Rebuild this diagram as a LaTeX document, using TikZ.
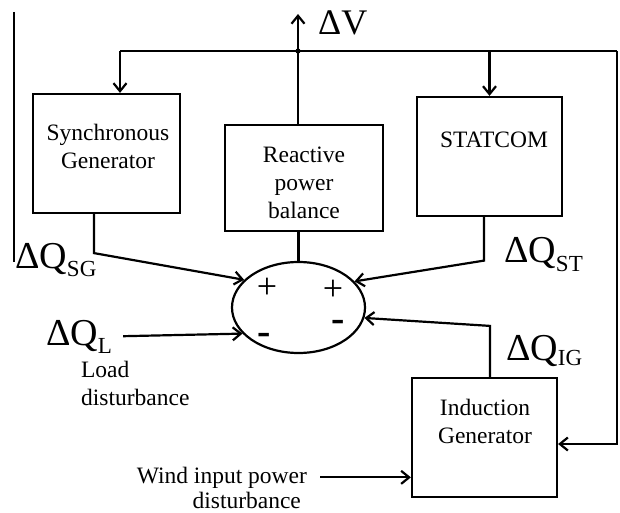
\documentclass[tikz,border=0pt]{standalone}
\usepackage{fontspec}
\setmainfont{Liberation Serif}
\usetikzlibrary{arrows.meta,shapes.geometric}
\newcommand{\dqsub}[2][8pt]{\raisebox{-#1}{\fontsize{23}{23}\selectfont #2}}
\begin{document}
\begin{tikzpicture}[x=1pt, y=-1pt, line width=2.2pt, >={Straight Barb[length=8pt,width=13pt]},
    blk/.style={draw, rectangle, inner sep=0pt, minimum width=#1},
    lbl/.style={font=\fontsize{23.5}{28}\selectfont, align=center},
    txt/.style={font=\fontsize{23.5}{28}\selectfont, inner sep=0pt},
    dq/.style={font=\fontsize{38}{38}\selectfont, inner sep=0pt, anchor=base west},
    sgn/.style={font=\fontsize{36}{36}\selectfont, inner sep=0pt, text height=0.55em, text depth=0pt, anchor=base}]
    \useasboundingbox (0,0) rectangle (620,513);
    \node[blk=147pt, minimum height=119pt] (sg) at (106.5,153.5) {};
    \node[blk=158pt, minimum height=106pt] (bal) at (304,178) {};
    \node[blk=145pt, minimum height=119pt] (st) at (489.5,156.5) {};
    \node[blk=145pt, minimum height=119pt] (ig) at (484.5,437.5) {};
    \node[draw, ellipse, inner sep=0pt, minimum width=133pt, minimum height=91pt] (sum) at (298.5,307.5) {};
    \node[lbl] (sgt) at (108,146) {Synchronous\\Generator};
    \node[lbl] (balt) at (304,182.5) {Reactive\\power\\balance};
    \node[lbl] (stt) at (494,140) {STATCOM};
    \node[lbl] (igt) at (485,421.5) {Induction\\Generator};
    \coordinate (bl) at (120,51); \coordinate (br) at (617,51); \coordinate (j) at (298,51);
    \coordinate (vtop) at (298,14);
    \draw (bl) -- (br);
    \fill (j) circle (2.6pt);
    \draw[->] (bl) -- (sg.north -| bl);
    \draw[->] (st.north |- bl) -- (st.north);
    \draw[->] (br) |- ([yshift=-6.5pt]ig.east);
    \draw[->] (bal.north -| j) -- (vtop);
    \node[dq, font=\fontsize{36}{36}\selectfont] (dv) at (317,35) {ΔV};
    \draw (bal.south -| sum.north) -- (sum.north);
    \draw[->] ([xshift=-12.5pt]sg.south) -- ++(0,39) -- (sum.153);
    \draw[->] ([xshift=-5.5pt]st.south) -- ++(0,43.5) -- (sum.25);
    \draw[->] ([xshift=5.5pt]ig.north) -- ++(0,-51) -- (sum.-9);
    \node[dq] (dqsg) at (14,268) {ΔQ\dqsub{SG}};
    \node[dq] (dqst) at (503,262) {ΔQ\dqsub[9pt]{ST}};
    \node[dq] (dqig) at (505,360) {ΔQ\dqsub[5pt]{IG}};
    \node[dq] (dql) at (45,345) {ΔQ\dqsub{L}};
    \draw[->, shorten <=10pt] (dql.east) -- (sum.205);
    \node[txt, anchor=base west] (ld1) at (80,377) {Load};
    \node[txt, anchor=base west] (ld2) at (80,405) {disturbance};
    \node[txt, anchor=base east] (wd1) at (308,483) {Wind input power};
    \node[txt, anchor=base east] (wd2) at (302,508) {disturbance};
    \draw[->, shorten <=12pt] (wd1.east) -- (ig.west |- wd1.east);
    \node[sgn] (p1) at (267,298) {+};
    \node[sgn] (p2) at (333,300) {+};
    \node[sgn, font=\fontsize{40}{40}\selectfont\bfseries, text height=0.35em] (m1) at (264,344) {-};
    \node[sgn, font=\fontsize{40}{40}\selectfont\bfseries, text height=0.35em] (m2) at (338,331) {-};
    \draw (14,12) -- (14,262);
\end{tikzpicture}
\end{document}
